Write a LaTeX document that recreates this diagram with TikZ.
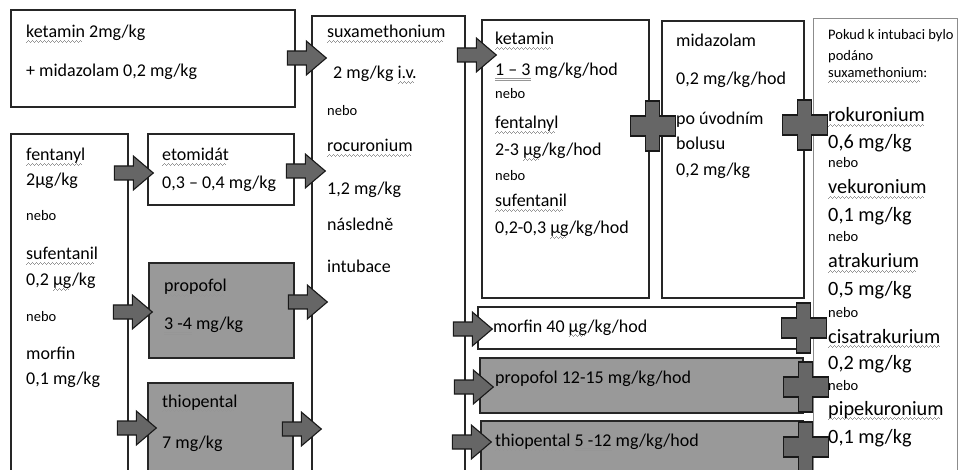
\documentclass[tikz,border=0pt]{standalone}
\usepackage{fontspec}
\setmainfont{Carlito}
\usetikzlibrary{fit,calc}
\definecolor{boxgray}{RGB}{153,153,153}
\definecolor{arrgray}{RGB}{102,102,102}
\definecolor{sqc}{RGB}{150,150,150}
\newcommand\wavepiece{\hbox{\rule[-0.7pt]{1pt}{0.8pt}\rule[0pt]{1pt}{0.8pt}\rule[0.7pt]{1pt}{0.8pt}\rule[0pt]{1pt}{0.8pt}}}
\newcommand\sq[1]{\setbox0\hbox{#1}\rlap{\raisebox{-3.8pt}{\hbox to\wd0{\color{sqc}\leaders\wavepiece\hfill}}}#1}
\newcommand\dul[1]{\setbox0\hbox{#1}\rlap{\color{sqc}\rule[-2.4pt]{\wd0}{0.6pt}}\rlap{\color{sqc}\rule[-4.2pt]{\wd0}{0.6pt}}#1}
\newcommand\fsz[1]{\fontsize{#1}{#1}\selectfont}
\begin{document}
\begin{tikzpicture}[x=1pt,y=-1pt,
  box/.style={draw=black!85, line width=1.4pt, fill=white, inner sep=0pt},
  gbox/.style={box, fill=boxgray},
  ibox/.style={draw=black!45, line width=0.8pt, fill=white, inner sep=0pt},
  txt/.style={anchor=base west, inner sep=0pt, font=\fsz{18}},
  sm/.style={txt, font=\fsz{14.5}},
  big/.style={txt, font=\fsz{20.3}},
  blk/.style={draw=black!90, line width=1.1pt, fill=arrgray, line join=miter},
  barrow/.pic={\path[blk] (0,0) -- (-20,-17) -- (-20,-7) -- (-39,-7) -- (-39,7) -- (-20,7) -- (-20,17) -- cycle;},
  plus/.pic={\path[blk] (-7,-25) -- (7,-25) -- (7,-10) -- (22.5,-10) -- (22.5,10) -- (7,10) -- (7,25) -- (-7,25) -- (-7,10) -- (-22.5,10) -- (-22.5,-10) -- (-7,-10) -- cycle;}
]
\clip (0,0) rectangle (961,470);
\fill[white] (0,0) rectangle (961,470);

% boxes
\node[box,  fit={(11,10) (295,107)}]  (A) {};
\node[box,  fit={(11,134) (128,480)}] (B) {};
\node[box,  fit={(148,134) (294,205)}] (C) {};
\node[gbox, fit={(149,263) (294,358)}] (D) {};
\node[gbox, fit={(148,383) (293,480)}] (E) {};
\node[box,  fit={(312,16) (465,480)}] (F) {};
\node[box,  fit={(482,20) (649,298)}] (G) {};
\node[box,  fit={(662,21) (804,298)}] (H) {};
\node[ibox, fit={(813,18) (957,480)}] (I) {};
\node[box,  fit={(478,307) (797,349)}] (J) {};
\node[gbox, fit={(480,358) (803,413)}] (K) {};
\node[gbox, fit={(481,421) (803,480)}] (L) {};

% texts A
\node[txt] (a1) at (26,38) {\sq{ketamin} 2mg/kg};
\node[txt] (a2) at (26,77) {+ midazolam 0,2 mg/kg};
% B
\node[txt] (b1) at (26,161) {\sq{fentanyl}};
\node[txt] (b2) at (26,186) {2µg/kg};
\node[sm]  (b3) at (26,221) {nebo};
\node[txt] (b4) at (26,260) {\sq{sufentanil}};
\node[txt] (b5) at (26,286) {0,2 \sq{µg}/kg};
\node[sm]  (b6) at (26,321) {nebo};
\node[txt] (b7) at (26,359) {morfin};
\node[txt] (b8) at (26,384) {0,1 mg/kg};
% C
\node[txt] (c1) at (162,161) {\sq{etomidát}};
\node[txt] (c2) at (162,189) {0,3 – 0,4 mg/kg};
% D
\node[txt] (d1) at (164,292) {\sq{propofol}};
\node[txt] (d2) at (164,330) {\dul{3 -4} mg/kg};
% E
\node[txt] (e1) at (162,407) {\sq{thiopental}};
\node[txt] (e2) at (162,448) {7 mg/kg};
% F
\node[txt] (f1) at (327,38) {\sq{suxamethonium}};
\node[txt] (f2) at (333,79) {2 mg/kg \sq{i.v.}};
\node[sm]  (f3) at (327,116) {nebo};
\node[txt] (f4) at (327,152) {\sq{rocuronium}};
\node[txt] (f5) at (327,195) {1,2 mg/kg};
\node[txt] (f6) at (327,231) {následně};
\node[txt] (f7) at (327,273) {intubace};
% G
\node[txt] (g1) at (495,45) {\sq{ketamin}};
\node[txt] (g2) at (495,76) {\dul{1 – 3} mg/kg/hod};
\node[sm]  (g3) at (495,99) {nebo};
\node[txt] (g4) at (495,129) {\sq{fentalnyl}};
\node[txt] (g5) at (495,156) {2-3 \sq{µg}/kg/hod};
\node[sm]  (g6) at (495,181) {nebo};
\node[txt] (g7) at (495,207) {\sq{sufentanil}};
\node[txt] (g8) at (495,234) {0,2-0,3 \sq{µg}/kg/hod};
% H
\node[txt] (h1) at (676,47) {midazolam};
\node[txt] (h2) at (676,85) {0,2 mg/kg/hod};
\node[txt] (h3) at (676,125) {po úvodním};
\node[txt] (h4) at (676,150) {bolusu};
\node[txt] (h5) at (676,176) {0,2 mg/kg};
% I
\node[sm]  (i1) at (828,40) {Pokud k intubaci bylo};
\node[sm]  (i2) at (828,61) {podáno};
\node[sm]  (i3) at (828,78) {\sq{suxamethonium}:};
\node[big] (i4) at (828,122) {\sq{rokuronium}};
\node[big] (i5) at (828,149) {0,6 mg/kg};
\node[sm]  (i6) at (828,168) {nebo};
\node[big] (i7) at (828,194) {\sq{vekuronium}};
\node[big] (i8) at (828,222) {0,1 mg/kg};
\node[sm]  (i9) at (828,242) {nebo};
\node[big] (i10) at (828,268) {\sq{atrakurium}};
\node[big] (i11) at (828,295) {0,5 mg/kg};
\node[sm]  (i12) at (828,317) {nebo};
\node[big] (i13) at (828,343) {\sq{cisatrakurium}};
\node[big] (i14) at (828,369) {0,2 mg/kg};
\node[sm]  (i15) at (828,390) {nebo};
\node[big] (i16) at (828,415) {\sq{pipekuronium}};
\node[big] (i17) at (828,443) {0,1 mg/kg};
% J K L
\node[txt] (j1) at (493,332) {morfin 40 \sq{µg}/kg/hod};
\node[txt] (k1) at (495,383) {\sq{propofol} 12-15 mg/kg/hod};
\node[txt] (l1) at (495,446) {\sq{thiopental} \dul{5 -12} mg/kg/hod};

% block arrows
\pic at ($(F.west |- 0,58)+(15,0)$) {barrow};
\pic at ($(F.west |- 0,171)+(14,0)$) {barrow};
\pic at ($(F.west |- 0,302)+(16,0)$) {barrow};
\pic at ($(F.west |- 0,429)+(10,0)$) {barrow};
\pic at ($(C.west |- 0,173)+(6,0)$) {barrow};
\pic at ($(D.west |- 0,312)+(4,0)$) {barrow};
\pic at ($(E.west |- 0,428)+(9,0)$) {barrow};
\pic at ($(G.west |- 0,55)+(15,0)$) {barrow};
\pic at ($(J.west |- 0,329)+(15,0)$) {barrow};
\pic at ($(K.west |- 0,387)+(14,0)$) {barrow};
\pic at ($(L.west |- 0,442)+(11,0)$) {barrow};

% plus signs
\pic at ($(G.east |- 0,126)+(3,0)$) {plus};
\pic at ($(H.east |- 0,125)$) {plus};
\pic at ($(J.east |- 0,328)+(6,0)$) {plus};
\pic at ($(K.east |- 0,387)+(2,0)$) {plus};
\pic at ($(L.east |- 0,447)+(2,0)$) {plus};
\end{tikzpicture}
\end{document}
